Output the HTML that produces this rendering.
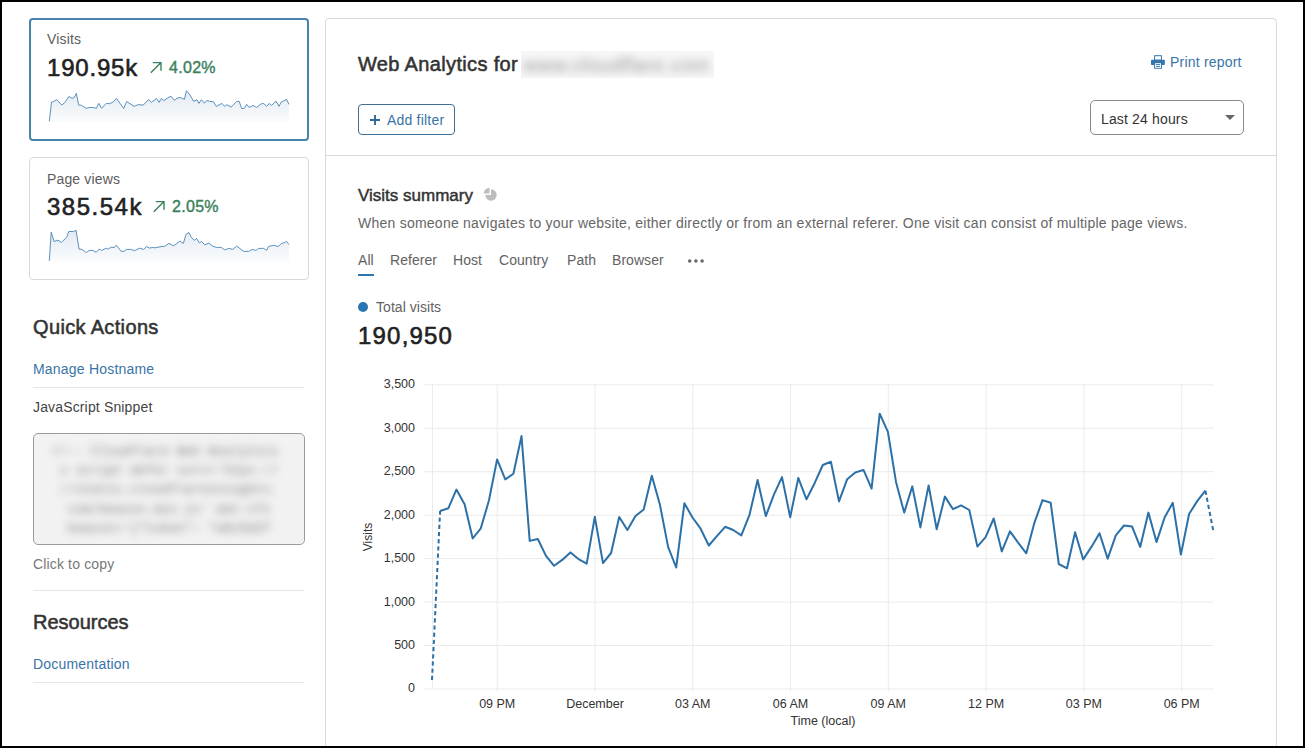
<!DOCTYPE html>
<html><head><meta charset="utf-8">
<style>
*{box-sizing:border-box;margin:0;padding:0}
html,body{width:1305px;height:748px;overflow:hidden;background:#fff}
body{position:relative;font-family:"Liberation Sans",sans-serif;color:#333}
.frame{position:absolute;left:0;top:0;width:1305px;height:748px;border:2px solid #000;z-index:50;pointer-events:none}
.t{position:absolute;white-space:nowrap;line-height:1}
.card{position:absolute;left:29px;width:280px;height:123px;border-radius:4px;background:#fff}
.c1{top:18px;border:2px solid #4683ad}
.c2{top:157px;border:1px solid #d9d9d9}
.lbl{font-size:14px;color:#5c5c5c;letter-spacing:0.15px}
.big{font-size:24px;color:#222;-webkit-text-stroke:0.6px #222;letter-spacing:0.8px}
.pct{font-size:16px;color:#3a815b;-webkit-text-stroke:0.4px #3a815b;letter-spacing:0.3px}
.hd{font-size:20px;color:#333;-webkit-text-stroke:0.55px #333;letter-spacing:0.35px}
.lnk{font-size:14px;color:#3874a8;letter-spacing:0.2px}
.hr{position:absolute;left:33px;width:271px;height:1px;background:#e6e6e6}
.panel{position:absolute;left:325px;top:18px;width:952px;height:760px;border:1px solid #d9d9d9;border-radius:4px}
.sep{position:absolute;left:326px;top:155px;width:950px;height:1px;background:#d9d9d9}
.btn{position:absolute;left:358px;top:104px;width:97px;height:31px;border:1px solid #3d6f97;border-radius:4px}
.dd{position:absolute;left:1090px;top:100px;width:154px;height:35px;border:1px solid #8a8a8a;border-radius:5px}
.tab{font-size:14px;color:#626262;letter-spacing:0.05px}
</style></head><body>
<div class="frame"></div>

<!-- card 1 -->
<div class="card c1"></div>
<div class="t lbl" id="visits" style="left:47px;top:32px">Visits</div>
<div class="t big" id="v190" style="left:47px;top:56px">190.95k</div>
<svg style="position:absolute;left:148px;top:58.5px" width="16" height="16" viewBox="0 0 16 16"><path d="M2.8,13.8 L12.8,3.8 M4.8,3.6 H13 V11.8" fill="none" stroke="#3a815b" stroke-width="1.4"/></svg>
<div class="t pct" id="p402" style="left:169px;top:59.5px">4.02%</div>
<svg style="position:absolute;left:0;top:0" width="300" height="140">
<defs><linearGradient id="g1" x1="0" y1="0" x2="0" y2="1"><stop offset="0" stop-color="#e2eaf2"/><stop offset="1" stop-color="#fbfcfd"/></linearGradient></defs>
<path d="M49.3,121.4 L51.5,102.2 L53.6,101.5 L56.7,99.6 L61.8,105.1 L65.1,102.2 L68.9,96.5 L72.3,98.4 L74.2,97.5 L76.4,93.4 L78.7,105.1 L81.4,105.3 L86.2,108.3 L90.0,107.5 L93.9,107.5 L96.2,108.5 L98.8,103.4 L101.5,108.3 L106.3,103.4 L109.2,103.7 L113.0,102.2 L116.4,98.4 L123.7,108.5 L126.6,101.5 L134.1,106.3 L138.4,104.6 L143.2,105.1 L148.4,99.6 L151.3,102.4 L156.6,98.4 L159.0,102.4 L161.4,98.4 L163.8,100.5 L170.0,96.5 L171.5,96.8 L174.5,100.4 L177.0,98.1 L180.4,97.5 L184.4,99.4 L186.4,90.8 L188.9,93.2 L193.7,101.4 L196.9,99.7 L198.9,103.4 L201.4,99.7 L204.3,103.2 L206.8,100.4 L209.8,101.4 L213.6,101.9 L216.3,106.4 L221.8,103.4 L224.8,106.4 L226.8,104.7 L231.2,107.1 L236.7,101.4 L239.2,101.4 L241.7,108.6 L244.2,108.4 L246.7,104.4 L249.2,107.4 L253.1,105.4 L256.6,107.4 L261.1,103.9 L263.6,103.4 L266.6,106.4 L269.1,103.4 L271.6,105.4 L276.1,101.1 L279.0,106.4 L281.0,102.4 L286.5,99.4 L289.0,104.4 L289.0,122.0 L49.3,122.0 Z" fill="url(#g1)"/>
<path d="M49.3,121.4 L51.5,102.2 L53.6,101.5 L56.7,99.6 L61.8,105.1 L65.1,102.2 L68.9,96.5 L72.3,98.4 L74.2,97.5 L76.4,93.4 L78.7,105.1 L81.4,105.3 L86.2,108.3 L90.0,107.5 L93.9,107.5 L96.2,108.5 L98.8,103.4 L101.5,108.3 L106.3,103.4 L109.2,103.7 L113.0,102.2 L116.4,98.4 L123.7,108.5 L126.6,101.5 L134.1,106.3 L138.4,104.6 L143.2,105.1 L148.4,99.6 L151.3,102.4 L156.6,98.4 L159.0,102.4 L161.4,98.4 L163.8,100.5 L170.0,96.5 L171.5,96.8 L174.5,100.4 L177.0,98.1 L180.4,97.5 L184.4,99.4 L186.4,90.8 L188.9,93.2 L193.7,101.4 L196.9,99.7 L198.9,103.4 L201.4,99.7 L204.3,103.2 L206.8,100.4 L209.8,101.4 L213.6,101.9 L216.3,106.4 L221.8,103.4 L224.8,106.4 L226.8,104.7 L231.2,107.1 L236.7,101.4 L239.2,101.4 L241.7,108.6 L244.2,108.4 L246.7,104.4 L249.2,107.4 L253.1,105.4 L256.6,107.4 L261.1,103.9 L263.6,103.4 L266.6,106.4 L269.1,103.4 L271.6,105.4 L276.1,101.1 L279.0,106.4 L281.0,102.4 L286.5,99.4 L289.0,104.4" fill="none" stroke="#4a86b6" stroke-width="0.9" stroke-linejoin="round"/>
</svg>

<!-- card 2 -->
<div class="card c2"></div>
<div class="t lbl" id="pv" style="left:47px;top:172px">Page views</div>
<div class="t big" id="v385" style="left:47px;top:195px;letter-spacing:1.5px">385.54k</div>
<svg style="position:absolute;left:151px;top:197.5px" width="16" height="16" viewBox="0 0 16 16"><path d="M2.8,13.8 L12.8,3.8 M4.8,3.6 H13 V11.8" fill="none" stroke="#3a815b" stroke-width="1.4"/></svg>
<div class="t pct" id="p205" style="left:172px;top:198.5px">2.05%</div>
<svg style="position:absolute;left:0;top:0" width="300" height="280">
<path d="M49.3,260.9 L51.2,232.2 L54.1,241.5 L57.9,240.1 L61.3,242.4 L66.6,237.5 L68.8,231.5 L73.7,231.5 L76.1,230.3 L79.0,249.1 L81.9,249.4 L86.4,252.6 L89.1,250.4 L92.9,250.4 L96.2,252.3 L99.1,249.1 L101.5,250.4 L106.3,248.2 L108.2,249.1 L111.1,247.2 L114.0,247.5 L116.4,245.3 L121.1,251.3 L124.0,251.3 L126.4,249.4 L130.7,249.4 L134.6,250.7 L139.3,248.2 L143.7,249.4 L146.5,246.6 L149.4,248.0 L152.8,247.5 L155.2,247.8 L160.0,246.8 L164.7,246.3 L169.0,243.4 L173.5,245.9 L179.9,241.1 L183.4,243.4 L185.9,234.5 L188.9,232.5 L191.4,237.5 L194.4,240.4 L196.4,238.4 L199.4,242.9 L201.4,241.4 L204.8,244.9 L208.8,243.1 L212.8,246.1 L216.3,247.4 L221.3,247.4 L224.8,249.9 L228.7,248.4 L232.7,249.4 L236.7,246.1 L243.7,251.4 L248.7,251.4 L252.2,249.4 L256.1,250.4 L258.6,248.4 L263.6,248.4 L266.6,250.4 L268.6,246.4 L273.6,245.4 L278.5,246.4 L281.5,243.4 L284.5,242.7 L286.5,241.4 L289.0,244.4 L289.0,261.5 L49.3,261.5 Z" fill="url(#g1)"/>
<path d="M49.3,260.9 L51.2,232.2 L54.1,241.5 L57.9,240.1 L61.3,242.4 L66.6,237.5 L68.8,231.5 L73.7,231.5 L76.1,230.3 L79.0,249.1 L81.9,249.4 L86.4,252.6 L89.1,250.4 L92.9,250.4 L96.2,252.3 L99.1,249.1 L101.5,250.4 L106.3,248.2 L108.2,249.1 L111.1,247.2 L114.0,247.5 L116.4,245.3 L121.1,251.3 L124.0,251.3 L126.4,249.4 L130.7,249.4 L134.6,250.7 L139.3,248.2 L143.7,249.4 L146.5,246.6 L149.4,248.0 L152.8,247.5 L155.2,247.8 L160.0,246.8 L164.7,246.3 L169.0,243.4 L173.5,245.9 L179.9,241.1 L183.4,243.4 L185.9,234.5 L188.9,232.5 L191.4,237.5 L194.4,240.4 L196.4,238.4 L199.4,242.9 L201.4,241.4 L204.8,244.9 L208.8,243.1 L212.8,246.1 L216.3,247.4 L221.3,247.4 L224.8,249.9 L228.7,248.4 L232.7,249.4 L236.7,246.1 L243.7,251.4 L248.7,251.4 L252.2,249.4 L256.1,250.4 L258.6,248.4 L263.6,248.4 L266.6,250.4 L268.6,246.4 L273.6,245.4 L278.5,246.4 L281.5,243.4 L284.5,242.7 L286.5,241.4 L289.0,244.4" fill="none" stroke="#4a86b6" stroke-width="0.9" stroke-linejoin="round"/>
</svg>

<div class="t hd" id="qa" style="left:33px;top:317px">Quick Actions</div>
<div class="t lnk" id="mh" style="left:33px;top:362px">Manage Hostname</div>
<div class="hr" style="top:387px"></div>
<div class="t lbl" id="js" style="left:33px;top:400px;color:#444">JavaScript Snippet</div>
<div style="position:absolute;left:33px;top:433px;width:272px;height:112px;border:1px solid #9a9a9a;border-radius:5px;background:#f2f2f2;overflow:hidden">
 <div style="position:absolute;left:18px;top:8px;font-family:'Liberation Mono',monospace;font-size:13px;line-height:19.2px;color:#777;filter:blur(4px);white-space:pre">&lt;!-- Cloudflare Web Analytics
 s script defer sorc='htps-//
 //static.cloudflareinsights.
  com/beacon.min.js' dat-cfx
  beacon='{"token": "a8c5d2f</div>
</div>
<div class="t lbl" id="ctc" style="left:33px;top:557px;color:#777">Click to copy</div>
<div class="hr" style="top:590px"></div>
<div class="t hd" id="res" style="left:33px;top:612px;letter-spacing:0">Resources</div>
<div class="t lnk" id="doc" style="left:33px;top:657px">Documentation</div>
<div class="hr" style="top:682px"></div>

<!-- main panel -->
<div class="panel"></div>
<div class="t hd" id="wa" style="left:358px;top:53.7px">Web Analytics for</div>
<div style="position:absolute;left:521px;top:51px;width:193px;height:27px;overflow:hidden;background:#f7f7f7"><div style="position:absolute;left:2px;top:2px;font-size:20px;line-height:24px;color:#9a9a9a;filter:blur(4px);white-space:nowrap;letter-spacing:0.5px">www.cloudflare.com</div></div>
<svg style="position:absolute;left:1151px;top:55px" width="14" height="14" viewBox="0 0 14 14">
 <rect x="3.6" y="0.7" width="6.8" height="4.5" fill="none" stroke="#3576ac" stroke-width="1"/>
 <rect x="0" y="4.7" width="13.8" height="5.4" rx="0.8" fill="#3576ac"/>
 <rect x="3.1" y="7.6" width="7.8" height="6.2" rx="0.6" fill="#3576ac"/>
 <rect x="4.1" y="8.2" width="5.8" height="4.7" fill="#fff"/>
 <rect x="5" y="9.1" width="4" height="0.95" fill="#3576ac"/><rect x="5" y="11.1" width="4" height="0.95" fill="#3576ac"/>
</svg>
<div class="t lnk" id="pr" style="left:1170px;top:54.5px">Print report</div>
<div class="btn"></div>
<svg style="position:absolute;left:370px;top:115px" width="10" height="10" viewBox="0 0 10 10"><path d="M5,0 V10 M0,5 H10" stroke="#2f6998" stroke-width="1.9"/></svg>
<div class="t lnk" id="af" style="left:387px;top:113px">Add filter</div>
<div class="dd"></div>
<div class="t lbl" id="l24" style="left:1101px;top:112px;color:#333">Last 24 hours</div>
<svg style="position:absolute;left:1225px;top:115px" width="10" height="5" viewBox="0 0 10 5"><path d="M0,0 H10 L5,5 Z" fill="#666"/></svg>
<div class="sep"></div>

<div class="t" id="vs" style="left:358px;top:187px;font-size:17px;-webkit-text-stroke:0.45px #333;color:#333">Visits summary</div>
<svg style="position:absolute;left:482px;top:187px" width="16" height="16" viewBox="0 0 16 16">
 <path d="M9,8 V2.3 A5.7,5.7 0 1 1 3.3,8 Z" fill="#bdbdbd"/>
 <path d="M7.5,6.5 H1.8 A5.7,5.7 0 0 1 7.5,0.8 Z" fill="#bdbdbd"/>
</svg>
<div class="t" id="desc" style="left:358px;top:216px;font-size:14px;color:#666;letter-spacing:0.24px">When someone navigates to your website, either directly or from an external referer. One visit can consist of multiple page views.</div>

<div class="t tab" id="tall" style="left:358px;top:253px">All</div>
<div style="position:absolute;left:358px;top:274px;width:16px;height:2px;background:#2c76b3"></div>
<div class="t tab" id="tref" style="left:390px;top:253px">Referer</div>
<div class="t tab" id="thost" style="left:453px;top:253px">Host</div>
<div class="t tab" id="tcountry" style="left:499px;top:253px">Country</div>
<div class="t tab" id="tpath" style="left:567px;top:253px">Path</div>
<div class="t tab" id="tbrowser" style="left:612px;top:253px">Browser</div>
<svg style="position:absolute;left:686px;top:258px" width="20" height="6"><circle cx="3.7" cy="3" r="1.75" fill="#666"/><circle cx="9.9" cy="3" r="1.75" fill="#666"/><circle cx="16.1" cy="3" r="1.75" fill="#666"/></svg>

<div style="position:absolute;left:358px;top:302px;width:10px;height:10px;border-radius:50%;background:#2a76b4"></div>
<div class="t tab" id="tv" style="left:376px;top:300px">Total visits</div>
<div class="t big" id="v950" style="left:358px;top:324px;letter-spacing:1.2px">190,950</div>

<!-- chart -->
<svg style="position:absolute;left:0;top:0" width="1305" height="748">
 <g stroke="#ebebeb" stroke-width="1">
  <line x1="423.5" y1="689.0" x2="1213.5" y2="689.0"/>
  <line x1="423.5" y1="645.5" x2="1213.5" y2="645.5"/>
  <line x1="423.5" y1="602.1" x2="1213.5" y2="602.1"/>
  <line x1="423.5" y1="558.6" x2="1213.5" y2="558.6"/>
  <line x1="423.5" y1="515.2" x2="1213.5" y2="515.2"/>
  <line x1="423.5" y1="471.7" x2="1213.5" y2="471.7"/>
  <line x1="423.5" y1="428.2" x2="1213.5" y2="428.2"/>
  <line x1="423.5" y1="384.8" x2="1213.5" y2="384.8"/>
  <line x1="432.5" y1="384" x2="432.5" y2="689"/>
  <line x1="497.2" y1="384" x2="497.2" y2="692"/>
  <line x1="595.0" y1="384" x2="595.0" y2="692"/>
  <line x1="692.8" y1="384" x2="692.8" y2="692"/>
  <line x1="790.5" y1="384" x2="790.5" y2="692"/>
  <line x1="888.3" y1="384" x2="888.3" y2="692"/>
  <line x1="986.1" y1="384" x2="986.1" y2="692"/>
  <line x1="1083.9" y1="384" x2="1083.9" y2="692"/>
  <line x1="1181.7" y1="384" x2="1181.7" y2="692"/>
 </g>
 <g font-family="Liberation Sans" font-size="12.5" fill="#333" text-anchor="end">
  <text x="415" y="692.4">0</text>
  <text x="415" y="648.9">500</text>
  <text x="415" y="605.5">1,000</text>
  <text x="415" y="562.0">1,500</text>
  <text x="415" y="518.6">2,000</text>
  <text x="415" y="475.1">2,500</text>
  <text x="415" y="431.6">3,000</text>
  <text x="415" y="388.2">3,500</text>
 </g>
 <g font-family="Liberation Sans" font-size="12.5" fill="#333" text-anchor="middle">
  <text x="497.2" y="708.2">09 PM</text>
  <text x="595.0" y="708.2">December</text>
  <text x="692.8" y="708.2">03 AM</text>
  <text x="790.5" y="708.2">06 AM</text>
  <text x="888.3" y="708.2">09 AM</text>
  <text x="986.1" y="708.2">12 PM</text>
  <text x="1083.9" y="708.2">03 PM</text>
  <text x="1181.7" y="708.2">06 PM</text>
  <text x="823" y="724.5">Time (local)</text>
  <text transform="translate(371.8,537) rotate(-90)" font-size="12">Visits</text>
 </g>
 <path d="M440.1,511.0 L448.3,508.3 L456.4,489.6 L464.6,504.3 L472.7,538.5 L480.8,528.3 L489.0,500.3 L497.1,459.4 L505.3,479.4 L513.4,473.8 L521.5,436.1 L529.7,540.9 L537.8,539.0 L546.0,555.9 L554.1,565.8 L562.2,559.9 L570.4,552.4 L578.5,559.1 L586.7,563.6 L594.8,516.8 L603.0,563.1 L611.1,553.0 L619.2,517.0 L627.4,530.0 L635.5,516.1 L643.7,509.4 L651.8,475.7 L659.9,504.6 L668.1,546.9 L676.2,567.5 L684.4,503.3 L692.5,517.5 L700.6,528.7 L708.8,545.5 L716.9,536.2 L725.1,526.8 L733.2,530.0 L741.3,535.4 L749.5,514.8 L757.6,480.0 L765.8,516.1 L773.9,494.7 L782.0,477.1 L790.2,517.2 L798.3,477.9 L806.5,499.3 L814.6,483.2 L822.8,465.0 L830.9,461.8 L839.0,501.4 L847.2,479.2 L855.3,472.5 L863.5,469.9 L871.6,488.6 L879.7,413.7 L887.9,431.9 L896.0,481.9 L904.2,512.6 L912.3,486.4 L920.4,527.4 L928.6,485.4 L936.7,529.2 L944.9,496.6 L953.0,509.2 L961.1,505.4 L969.3,510.0 L977.4,546.6 L985.6,537.2 L993.7,518.5 L1001.8,551.4 L1010.0,531.4 L1018.1,542.6 L1026.3,553.3 L1034.4,522.8 L1042.5,500.1 L1050.7,502.8 L1058.8,564.0 L1067.0,568.3 L1075.1,532.2 L1083.2,559.4 L1091.4,546.9 L1099.5,533.2 L1107.7,558.6 L1115.8,535.4 L1124.0,525.5 L1132.1,526.6 L1140.2,546.9 L1148.4,512.6 L1156.5,542.1 L1164.7,517.2 L1172.8,502.8 L1180.9,554.6 L1189.1,514.0 L1197.2,501.1 L1205.4,490.7" fill="none" stroke="#2c70a8" stroke-width="2" stroke-linejoin="round"/>
 <path d="M432.0,680.0 L440.1,511.0" fill="none" stroke="#2c70a8" stroke-width="2" stroke-dasharray="4.2,3"/>
 <path d="M1205.4,490.7 L1213.5,531.9" fill="none" stroke="#2c70a8" stroke-width="2" stroke-dasharray="4.2,3"/>
</svg>
</body></html>
